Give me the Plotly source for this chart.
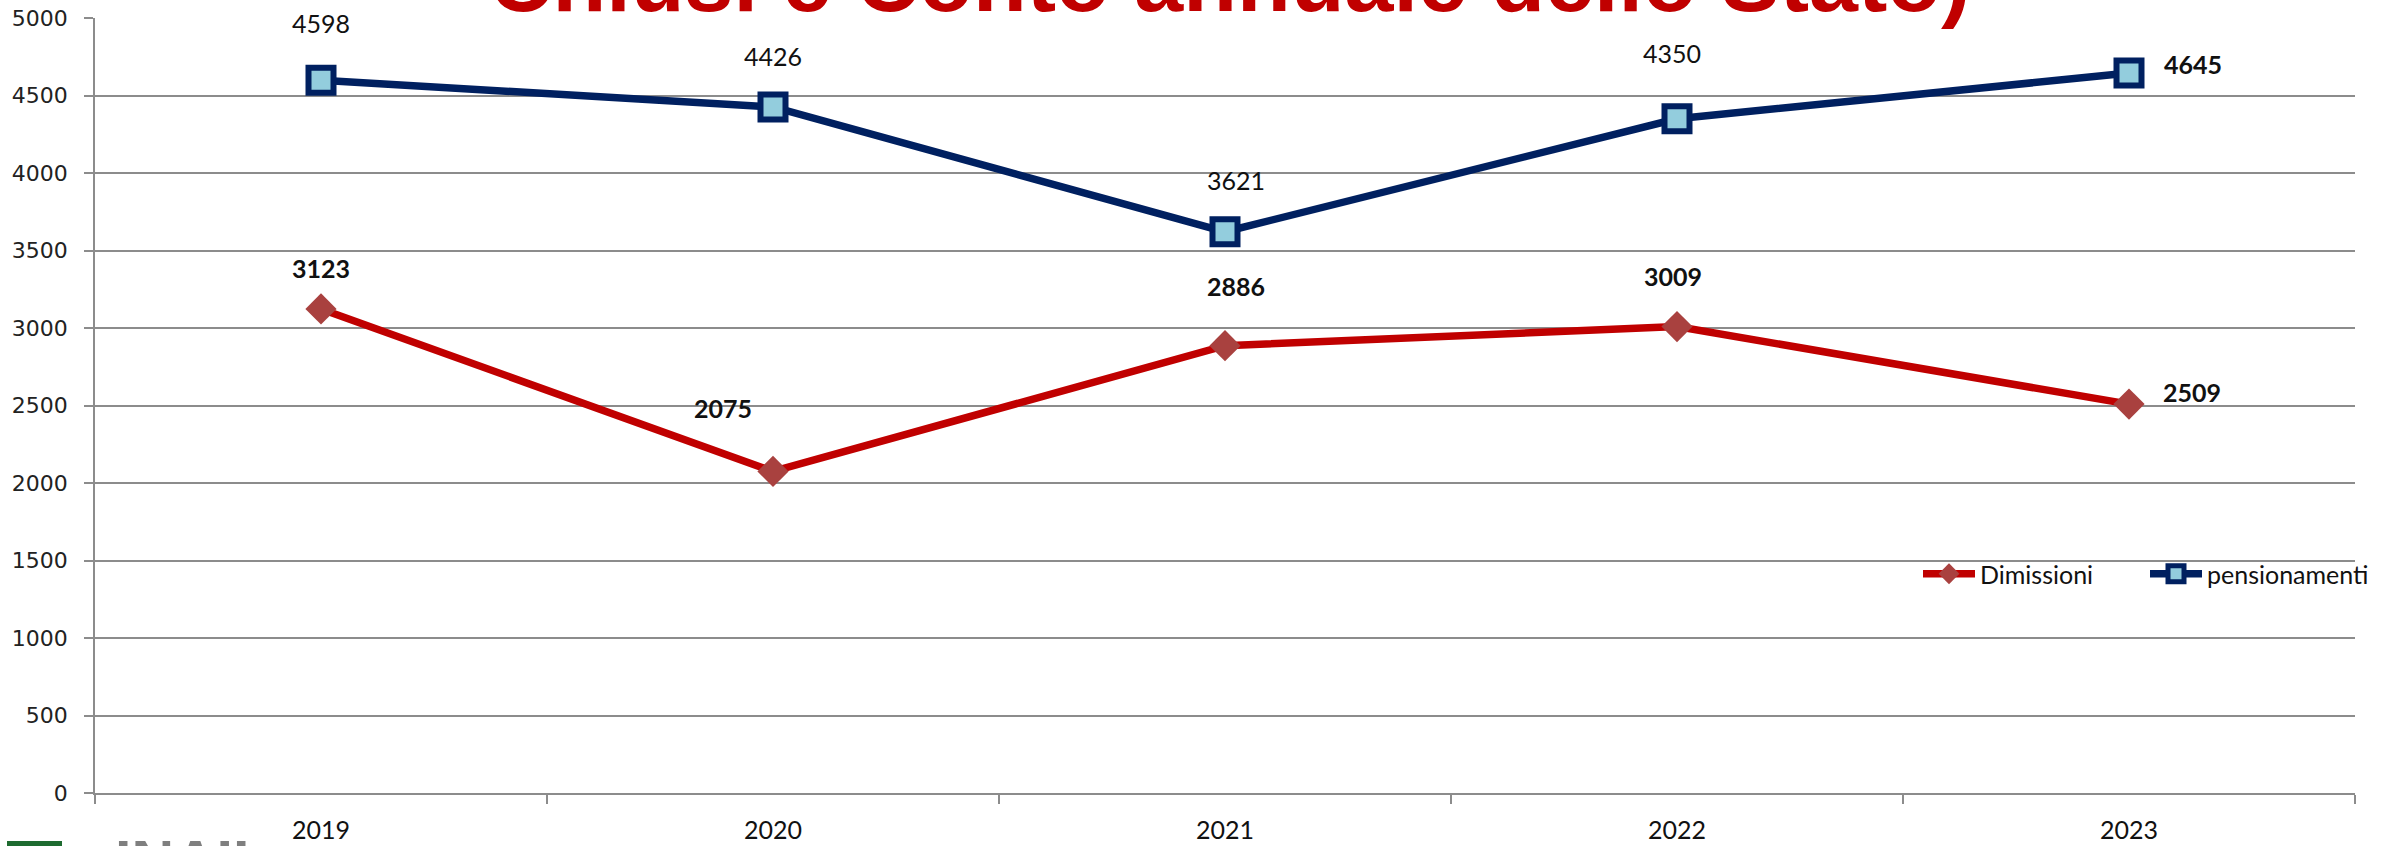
import plotly.graph_objects as go

# ---- data ----
years = ["2019", "2020", "2021", "2022", "2023"]
dimissioni = [3123, 2075, 2886, 3009, 2509]
pensionamenti = [4598, 4426, 3621, 4350, 4645]
series_names = ["Dimissioni", "pensionamenti"]
title_text = "Chiusi e Conto annuale dello Stato)"
logo_text = "INAIL"

# ---- style ----
W, H = 2389, 846
ML, MR, MT, MB = 95, 34, 18, 53
PW, PH = W - ML - MR, H - MT - MB
RED_LINE = "#C00000"
RED_MARK = "#A9413F"
NAVY = "#002060"
LIGHTBLUE = "#93CDDD"
GRID = "#8C8C8C"
LABEL_FONT = "Lato, 'Open Sans', sans-serif"

# label offsets in px (xshift, yshift) per point
dim_off = [(0, 41), (-50, 63), (11, 60), (-4, 51), (63, 12)]
dim_bold = [True, True, True, True, True]
pen_off = [(0, 57), (0, 51), (11, 52), (-5, 66), (64, 9)]
pen_bold = [False, False, False, False, True]

fig = go.Figure()
fig.add_trace(go.Scatter(
    x=years, y=dimissioni, name=series_names[0], mode="lines+markers",
    line=dict(color=RED_LINE, width=7.5),
    marker=dict(symbol="diamond", size=24, color=RED_MARK,
                line=dict(color=RED_MARK, width=0)),
))
fig.add_trace(go.Scatter(
    x=years, y=pensionamenti, name=series_names[1], mode="lines+markers",
    line=dict(color=NAVY, width=7.5),
    marker=dict(symbol="square", size=25, color=LIGHTBLUE,
                line=dict(color=NAVY, width=6)),
))

annotations = []
for vals, offs, bolds in ((dimissioni, dim_off, dim_bold), (pensionamenti, pen_off, pen_bold)):
    for i, (yv, (dx, dy), b) in enumerate(zip(vals, offs, bolds)):
        annotations.append(dict(
            x=i, y=yv, xref="x", yref="y", text=str(yv), showarrow=False,
            xshift=dx, yshift=dy, xanchor="center", yanchor="middle",
            font=dict(family=LABEL_FONT, size=25, color="#111111",
                      weight="bold" if b else "normal"),
        ))

# cropped slide title (only bottom part visible)
annotations.append(dict(
    x=(1230 - ML) / PW, y=0.982, xref="paper", yref="paper", text=title_text,
    showarrow=False, xanchor="center", yanchor="bottom",
    font=dict(family="'Liberation Sans', Arial, sans-serif", size=88,
              color="#C00000", weight="bold"),
))
# cropped logo text at bottom-left
annotations.append(dict(
    x=(113 - ML) / PW, y=-(827 - (MT + PH)) / PH, xref="paper", yref="paper",
    text=logo_text, showarrow=False, xanchor="left", yanchor="top",
    font=dict(family="'Liberation Sans', Arial, sans-serif", size=59,
              color="#7F7F7F", weight="bold"),
))

shapes = [dict(
    type="rect", xref="paper", yref="paper",
    x0=(7 - ML) / PW, x1=(62 - ML) / PW,
    y0=-(860 - (MT + PH)) / PH, y1=-(841 - (MT + PH)) / PH,
    fillcolor="#1E6B30", line=dict(width=0),
)]

fig.update_layout(
    width=W, height=H,
    margin=dict(l=ML, r=MR, t=MT, b=MB, autoexpand=False),
    paper_bgcolor="white", plot_bgcolor="white",
    showlegend=True,
    legend=dict(orientation="h", x=(1918 - ML) / PW, xanchor="left",
                y=(PH - (574 - MT)) / PH, yanchor="middle",
                bgcolor="rgba(0,0,0,0)", itemwidth=52,
                entrywidth=160, entrywidthmode="pixels",
                font=dict(family=LABEL_FONT, size=25, color="#111111")),
    annotations=annotations,
    shapes=shapes,
)
fig.update_xaxes(
    type="category", range=[-0.5, 4.5], tickson="boundaries",
    ticks="outside", ticklen=9, tickwidth=1.5, tickcolor=GRID,
    showline=True, linecolor=GRID, linewidth=1.5, showgrid=False,
    tickfont=dict(family=LABEL_FONT, size=25, color="#111111"),
    ticklabelstandoff=14, automargin=False,
)
fig.update_yaxes(
    range=[0, 5000], dtick=500, tick0=0,
    ticks="outside", ticklen=9, tickwidth=1.5, tickcolor=GRID,
    showline=True, linecolor=GRID, linewidth=1.5,
    showgrid=True, gridcolor=GRID, gridwidth=1.5, zeroline=False,
    tickfont=dict(family="'DejaVu Sans', Verdana, sans-serif", size=22, color="#222222"),
    ticklabelstandoff=12, automargin=False,
)

fig.write_html("out.html")
